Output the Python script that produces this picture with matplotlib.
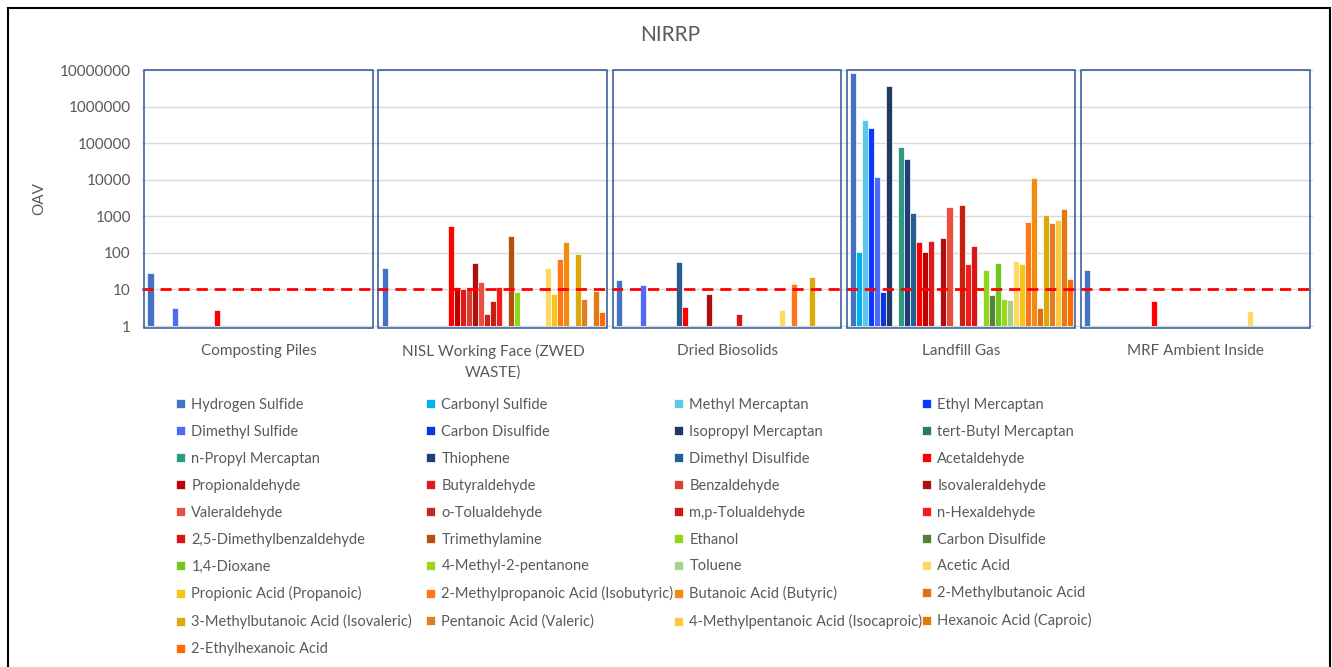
import numpy as np
import matplotlib.pyplot as plt
from matplotlib.patches import Rectangle, Patch
from matplotlib.ticker import NullLocator

plt.rcParams['font.family'] = ['Lato', 'DejaVu Sans']

categories = ['Composting Piles', 'NISL Working Face (ZWED\nWASTE)', 'Dried Biosolids',
              'Landfill Gas', 'MRF Ambient Inside']

compounds = ['Hydrogen Sulfide', 'Carbonyl Sulfide', 'Methyl Mercaptan', 'Ethyl Mercaptan',
             'Dimethyl Sulfide', 'Carbon Disulfide', 'Isopropyl Mercaptan', 'tert-Butyl Mercaptan',
             'n-Propyl Mercaptan', 'Thiophene', 'Dimethyl Disulfide', 'Acetaldehyde',
             'Propionaldehyde', 'Butyraldehyde', 'Benzaldehyde', 'Isovaleraldehyde',
             'Valeraldehyde', 'o-Tolualdehyde', 'm,p-Tolualdehyde', 'n-Hexaldehyde',
             '2,5-Dimethylbenzaldehyde', 'Trimethylamine', 'Ethanol', 'Carbon Disulfide',
             '1,4-Dioxane', '4-Methyl-2-pentanone', 'Toluene', 'Acetic Acid',
             'Propionic Acid (Propanoic)', '2-Methylpropanoic Acid (Isobutyric)',
             'Butanoic Acid (Butyric)', '2-Methylbutanoic Acid',
             '3-Methylbutanoic Acid (Isovaleric)', 'Pentanoic Acid (Valeric)',
             '4-Methylpentanoic Acid (Isocaproic)', 'Hexanoic Acid (Caproic)',
             '2-Ethylhexanoic Acid']

colors = ['#4472C4', '#00B0F0', '#5BC8E6', '#0A3CFF', '#4F6BF5', '#0A35E0', '#203864', '#2E7672',
          '#2E9A83', '#203D7A', '#255E91', '#FF0000', '#C00000', '#E0191A', '#D94030', '#B00F0F',
          '#E8503F', '#CC2222', '#C8200E', '#F21C1C', '#DA1515', '#B5500E', '#8FD61C', '#548235',
          '#70C81E', '#9AD61A', '#A9D18E', '#FFD966', '#F5C518', '#FF7518', '#F28C10', '#E0700C',
          '#DDA90A', '#E07E22', '#FFC83D', '#E37A10', '#FF6A00']

# OAV per compound (same order as compounds), 0 = not detected
composting = [29, 0, 0, 0, 3.2, 0, 0, 0, 0, 0, 0, 2.8, 0, 0, 0, 0, 0, 0, 0, 0, 0, 0,
              0, 0, 0, 0, 0, 0, 0, 0, 0, 0, 0, 0, 0, 0, 0]
nisl = [38, 0, 0, 0, 0, 0, 0, 0, 0, 0, 0, 530, 12, 10, 12, 54, 16, 2.1, 4.7, 11.5, 0, 290,
        8.5, 0, 0, 0, 0, 38, 7.5, 66, 195, 0, 93, 5.5, 0, 9, 2.4]
biosolids = [18, 0, 0, 0, 13, 0, 0, 0, 0, 0, 57, 3.4, 0, 0, 0, 7.5, 0, 0, 0, 0, 2.1, 0,
             0, 0, 0, 0, 0, 2.8, 0, 14, 0, 0, 22, 0, 0, 0, 0]
landfill = [8.5e6, 105, 4.4e5, 2.6e5, 1.2e4, 8.3, 3.6e6, 0, 8.1e4, 3.7e4, 1270, 195, 105,
            205, 0, 250, 1800, 0, 2050, 50, 156, 0, 35, 7, 54, 5.5, 5.1, 61, 50, 700, 11000,
            3.2, 1100, 650, 790, 1550, 19]
mrf = [35, 0, 0, 0, 0, 0, 0, 0, 0, 0, 0, 4.7, 0, 0, 0, 0, 0, 0, 0, 0, 0, 0,
       0, 0, 0, 0, 0, 2.6, 0, 0, 0, 0, 0, 0, 0, 0, 0]

threshold = 10
yticks = [1, 10, 100, 1000, 10000, 100000, 1000000, 10000000]

values = np.array([composting, nisl, biosolids, landfill, mrf], dtype=float)
values[values == 0] = np.nan

text_color = '#595959'
fig = plt.figure(figsize=(13.32, 6.67), dpi=100)
ax = fig.add_axes([0.1066, 0.5112, 0.879, 0.3838])
ax.set_yscale('log')

n = len(compounds)
slot = 0.953 / n
xs = np.arange(len(categories))
for j in range(n):
    ax.bar(xs + (j - (n - 1) / 2) * slot, values[:, j], width=slot, color=colors[j],
           edgecolor='white', linewidth=0.5, label=compounds[j], zorder=3)

ax.axhline(threshold, color='#FF0000', linestyle=(0, (4, 2.5)), linewidth=2, zorder=4,
           clip_on=False)

# group boxes
for i in xs:
    ax.add_patch(Rectangle((i - 0.49, -0.008), 0.976, 1.008, transform=ax.get_xaxis_transform(),
                           fill=False, edgecolor='#2F5597', linewidth=1.1, zorder=5, clip_on=False))

ax.set_ylim(1, 1e7)
ax.set_xlim(-0.5, len(categories) - 0.5)
ax.set_yticks(yticks)
ax.set_yticklabels([str(t) for t in yticks])
ax.yaxis.set_minor_locator(NullLocator())
ax.set_xticks(xs)
ax.set_xticklabels(categories, fontsize=11, color=text_color, linespacing=1.55)
ax.tick_params(axis='x', length=0, pad=13)
ax.tick_params(axis='y', length=0, pad=8, labelsize=11, labelcolor=text_color)
ax.grid(axis='y', color='#D9D9D9', linewidth=1, zorder=0)
for s in ['left', 'right', 'top']:
    ax.spines[s].set_visible(False)
ax.spines['bottom'].set_color('#D9D9D9')
ax.set_ylabel('OAV', fontsize=11, color=text_color, labelpad=10)

fig.text(0.503, 0.947, 'NIRRP', ha='center', va='center', fontsize=15, color=text_color)

# legend: Excel fills row by row, so one legend per column
ncol = 4
col_x = [176, 426, 674, 922]
for c in range(ncol):
    idx = list(range(c, n, ncol))
    handles = [Patch(facecolor=colors[k], edgecolor='white', linewidth=0.5) for k in idx]
    fig.legend(handles, [compounds[k] for k in idx], loc='upper left',
               bbox_to_anchor=(col_x[c] / 1332, 1 - 398 / 667), frameon=False,
               fontsize=10.5, labelcolor=text_color, handlelength=0.6, handleheight=0.6,
               handletextpad=0.45, labelspacing=0.885, borderaxespad=0, borderpad=0)

# outer frame
fig.add_artist(Rectangle((8 / 1332, -0.01), 1322 / 1332, 1 - 8 / 667 + 0.01,
                         transform=fig.transFigure, fill=False, edgecolor='black', linewidth=1.5))

fig.savefig('out.png', dpi=100)
